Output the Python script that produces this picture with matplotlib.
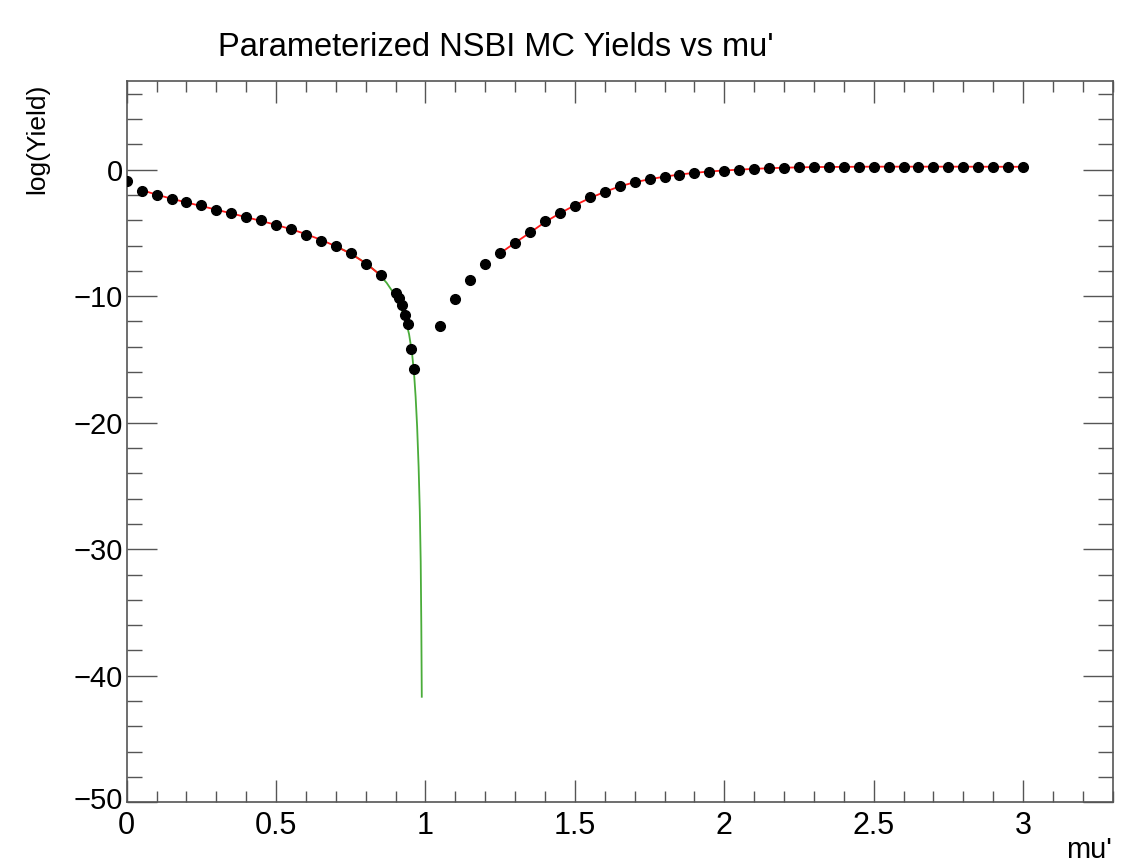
import matplotlib
matplotlib.use("Agg")
import matplotlib.pyplot as plt
import matplotlib.transforms as mtransforms
from matplotlib.ticker import MultipleLocator

plt.rcParams['font.family'] = ['Liberation Sans', 'DejaVu Sans']
plt.rcParams['axes.unicode_minus'] = True

# ---- data ----
mu_pts = [0.00, 0.05, 0.10, 0.15, 0.20, 0.25, 0.30, 0.35, 0.40, 0.45, 0.50,
          0.55, 0.60, 0.65, 0.70, 0.75, 0.80, 0.85, 0.90, 0.91, 0.92, 0.93,
          0.94, 0.95, 0.96,
          1.05, 1.10, 1.15, 1.20, 1.25, 1.30, 1.35, 1.40, 1.45, 1.50, 1.55,
          1.60, 1.65, 1.70, 1.75, 1.80, 1.85, 1.90, 1.95, 2.00, 2.05, 2.10,
          2.15, 2.20, 2.25, 2.30, 2.35, 2.40, 2.45, 2.50, 2.55, 2.60, 2.65,
          2.70, 2.75, 2.80, 2.85, 2.90, 2.95, 3.00]
logy_pts = [-0.90, -1.66, -1.98, -2.32, -2.58, -2.82, -3.16, -3.45, -3.77, -4.00, -4.37,
            -4.66, -5.14, -5.64, -6.06, -6.59, -7.45, -8.30, -9.72, -10.17, -10.72, -11.46,
            -12.22, -14.20, -15.77,
            -12.40, -10.24, -8.72, -7.45, -6.61, -5.82, -4.95, -4.08, -3.43, -2.85, -2.19,
            -1.74, -1.29, -0.98, -0.77, -0.58, -0.40, -0.27, -0.16, -0.08, 0.00, 0.08,
            0.12, 0.16, 0.20, 0.22, 0.22, 0.23, 0.23, 0.23, 0.23, 0.23, 0.22,
            0.20, 0.22, 0.22, 0.22, 0.22, 0.22, 0.22]

# red fit, low-mu branch
fit_lo_x = [0.05, 0.10, 0.15, 0.20, 0.25, 0.30, 0.35, 0.40, 0.45, 0.50, 0.55,
            0.60, 0.65, 0.70, 0.75, 0.80, 0.86]
fit_lo_y = [-1.62, -1.98, -2.30, -2.60, -2.88, -3.17, -3.46, -3.76, -4.06, -4.37, -4.71,
            -5.10, -5.55, -6.06, -6.65, -7.40, -8.55]

# green fit, steep branch near mu' = 1
fit_mid_x = [0.70, 0.75, 0.80, 0.84, 0.87, 0.89, 0.905, 0.92, 0.935, 0.945, 0.955,
             0.962, 0.967, 0.972, 0.977, 0.981, 0.984, 0.986, 0.9876]
fit_mid_y = [-6.06, -6.62, -7.40, -8.15, -8.95, -9.65, -10.30, -11.05, -12.05, -13.00, -14.50,
             -16.20, -17.96, -20.30, -23.50, -27.00, -31.00, -36.00, -41.66]

# red fit, high-mu branch
fit_hi_x = [1.25, 1.30, 1.35, 1.40, 1.45, 1.50, 1.55, 1.60, 1.65, 1.70, 1.75,
            1.80, 1.85, 1.90, 1.95, 2.00, 2.10, 2.20, 2.30, 2.50, 2.75, 3.00]
fit_hi_y = [-6.61, -5.78, -4.98, -4.15, -3.45, -2.82, -2.25, -1.76, -1.33, -1.00, -0.76,
            -0.56, -0.39, -0.26, -0.15, -0.07, 0.06, 0.15, 0.20, 0.23, 0.23, 0.22]

x_ticks = [0, 0.5, 1, 1.5, 2, 2.5, 3]
x_ticklabels = ['0', '0.5', '1', '1.5', '2', '2.5', '3']
y_ticks = [-50, -40, -30, -20, -10, 0]
y_ticklabels = ['\u221250', '\u221240', '\u221230', '\u221220', '\u221210', '0']

title = "Parameterized NSBI MC Yields vs mu'"
xlabel = "mu'"
ylabel = "log(Yield)"

# ---- figure ----
W, H = 1125, 865
fig = plt.figure(figsize=(W / 100, H / 100), dpi=100)
ax = fig.add_axes([126.7 / W, 1 - 802.3 / H, (1112.7 - 126.7) / W, (802.3 - 81) / H])

red = '#ff1a1a'
green = '#4aac3a'
ax.plot(fit_lo_x, fit_lo_y, color=red, lw=1.3, zorder=3)
ax.plot(fit_mid_x, fit_mid_y, color=green, lw=1.3, zorder=2)
ax.plot(fit_hi_x, fit_hi_y, color=red, lw=1.3, zorder=3)
ax.plot(mu_pts, logy_pts, 'o', color='black', ms=7.0, mec='black', zorder=4)

ax.set_xlim(0, 3.3)
ax.set_ylim(-50, 7)

ax.set_xticks(x_ticks)
ax.set_xticklabels(x_ticklabels)
ax.set_yticks(y_ticks)
ax.set_yticklabels(y_ticklabels)
ax.xaxis.set_minor_locator(MultipleLocator(0.1))
ax.yaxis.set_minor_locator(MultipleLocator(2))

axcol = '#555555'
for s in ax.spines.values():
    s.set_color(axcol)
    s.set_linewidth(1.2)
ax.tick_params(axis='x', which='major', direction='in', length=15.6, width=1.0,
               color=axcol, top=True, labelsize=22, pad=6)
ax.tick_params(axis='x', which='minor', direction='in', length=7.7, width=1.0,
               color=axcol, top=True)
ax.tick_params(axis='y', which='major', direction='in', length=21.6, width=1.0,
               color=axcol, right=True, labelsize=21, pad=3)
ax.tick_params(axis='y', which='minor', direction='in', length=10.8, width=1.0,
               color=axcol, right=True)
# lift the bottom y label slightly so it sits just above the x "0" label
lift = mtransforms.ScaledTranslation(0, 4 / 100, fig.dpi_scale_trans)
for lbl in ax.get_yticklabels():
    if lbl.get_text() == '\u221250':
        lbl.set_transform(lbl.get_transform() + lift)

fig.text(218 / W, 1 - 47 / H, title, fontsize=23.5, ha='left', va='center')
fig.text(1112 / W, 1 - 850 / H, xlabel, fontsize=21, ha='right', va='center')
fig.text(37 / W, 1 - 84 / H, ylabel, fontsize=19, ha='center', va='top', rotation=90)

fig.savefig('out.png', dpi=100)
